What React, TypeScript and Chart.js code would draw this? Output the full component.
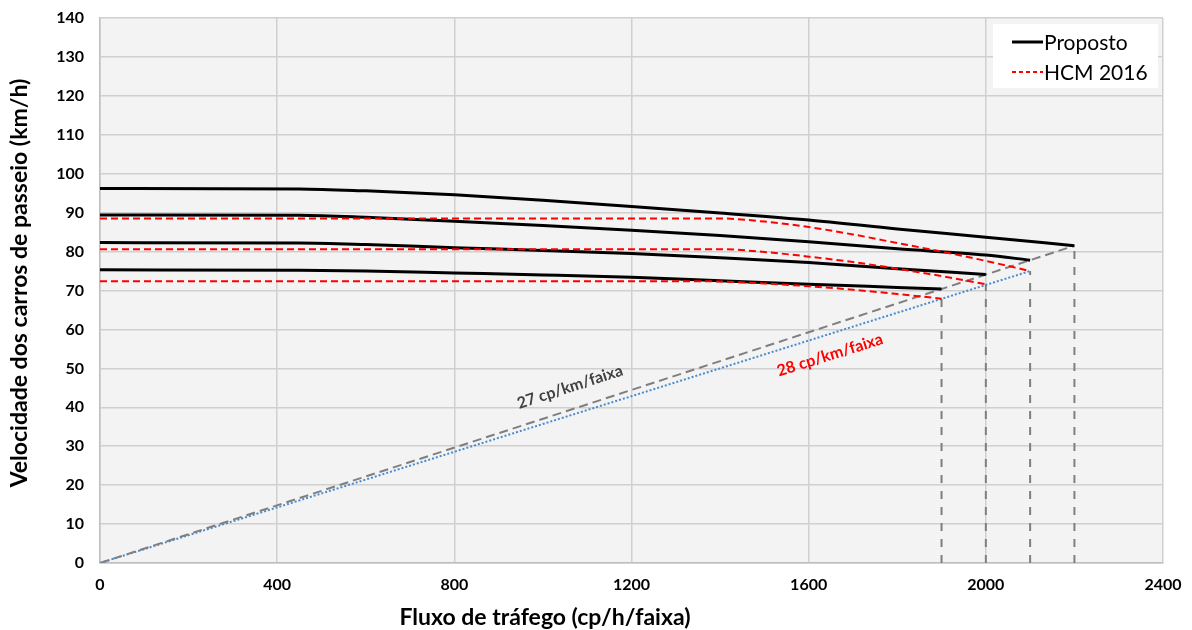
import React, { useEffect, useRef } from "react";
import { Chart, registerables } from "chart.js";

Chart.register(...registerables);

const FONT = "Lato, 'Open Sans', 'DejaVu Sans', sans-serif";

// Axis / ticks
const xMin = 0;
const xMax = 2400;
const xStep = 400;
const yMin = 0;
const yMax = 140;
const yStep = 10;
const xTitle = "Fluxo de tráfego (cp/h/faixa)";
const yTitle = "Velocidade dos carros de passeio (km/h)";

// Proposto (black solid) curves
const prop1Flow = [0, 450, 600, 800, 1000, 1200, 1400, 1600, 1800, 2000, 2200];
const prop1Speed = [96.2, 96.1, 95.6, 94.6, 93.2, 91.6, 89.9, 88.1, 85.8, 83.7, 81.5];
const prop2Flow = [0, 450, 600, 800, 1000, 1200, 1400, 1600, 1800, 2000, 2100];
const prop2Speed = [89.4, 89.3, 88.8, 87.8, 86.7, 85.5, 84.1, 82.5, 80.7, 79.1, 77.8];
const prop3Flow = [0, 450, 600, 800, 1000, 1200, 1400, 1600, 1800, 2000];
const prop3Speed = [82.3, 82.2, 81.8, 81.0, 80.3, 79.5, 78.4, 77.2, 75.6, 74.1];
const prop4Flow = [0, 450, 600, 800, 1000, 1200, 1400, 1600, 1800, 1900];
const prop4Speed = [75.3, 75.2, 75.0, 74.5, 74.0, 73.4, 72.5, 71.6, 70.8, 70.4];

// HCM 2016 (red dashed) curves
const hcm1Flow = [0, 1400, 1500, 1600, 1700, 1800, 1900, 2000, 2100];
const hcm1Speed = [88.5, 88.5, 87.7, 86.3, 84.4, 82.2, 80.0, 77.6, 75.0];
const hcm2Flow = [0, 1400, 1500, 1600, 1700, 1800, 1900, 2000];
const hcm2Speed = [80.6, 80.6, 79.9, 78.7, 77.3, 75.6, 73.7, 71.6];
const hcm3Flow = [0, 1350, 1500, 1600, 1700, 1800, 1900];
const hcm3Speed = [72.4, 72.4, 71.8, 71.1, 70.2, 69.1, 67.9];

// Density reference lines
const dens27Flow = [0, 2200];
const dens27Speed = [0, 81.5];
const dens28Flow = [0, 2100];
const dens28Speed = [0, 75.0];

// Capacity verticals
const capFlow = [1900, 2000, 2100, 2200];
const capSpeed = [67.9, 71.6, 75.0, 81.5];

// Text labels
const densLabels = ["27 cp/km/faixa", "28 cp/km/faixa"];
const densLabelFlow = [1061, 1648];
const densLabelSpeed = [45.2, 53.4];
const densLabelColor = ["#404040", "#ff0000"];

const legendLabels = ["Proposto", "HCM 2016"];

const pts = (xs: number[], ys: number[]) => xs.map((x, i) => ({ x, y: ys[i] }));

export default function App() {
  const ref = useRef<HTMLCanvasElement | null>(null);

  useEffect(() => {
    document.body.style.margin = "0";
    const canvas = ref.current;
    if (!canvas) return;

    const black = (xs: number[], ys: number[]) => ({
      label: "Proposto",
      data: pts(xs, ys),
      borderColor: "#000000",
      borderWidth: 3,
      pointRadius: 0,
      cubicInterpolationMode: "monotone" as const,
      order: 2,
    });
    const red = (xs: number[], ys: number[]) => ({
      label: "HCM 2016",
      data: pts(xs, ys),
      borderColor: "#ff0000",
      borderWidth: 2,
      borderDash: [7, 4],
      pointRadius: 0,
      cubicInterpolationMode: "monotone" as const,
      order: 1,
    });
    const verticals = capFlow.map((f, i) => ({
      label: "cap",
      data: [
        { x: f, y: 0 },
        { x: f, y: capSpeed[i] },
      ],
      borderColor: "#7f7f7f",
      borderWidth: 2,
      borderDash: [8, 8],
      pointRadius: 0,
      order: 3,
    }));

    const datasets: any[] = [
      red(hcm1Flow, hcm1Speed),
      red(hcm2Flow, hcm2Speed),
      red(hcm3Flow, hcm3Speed),
      black(prop1Flow, prop1Speed),
      black(prop2Flow, prop2Speed),
      black(prop3Flow, prop3Speed),
      black(prop4Flow, prop4Speed),
      {
        label: "27",
        data: pts(dens27Flow, dens27Speed),
        borderColor: "#7f7f7f",
        borderWidth: 2,
        borderDash: [9, 5],
        pointRadius: 0,
        order: 3,
      },
      {
        label: "28",
        data: pts(dens28Flow, dens28Speed),
        borderColor: "#4a8ad0",
        borderWidth: 2,
        borderDash: [2, 2],
        pointRadius: 0,
        order: 3,
      },
      ...verticals,
    ];

    const bgPlugin = {
      id: "bg",
      beforeDraw(chart: any) {
        const { ctx, chartArea: a } = chart;
        ctx.save();
        ctx.fillStyle = "#ffffff";
        ctx.fillRect(0, 0, chart.width, chart.height);
        ctx.fillStyle = "#f3f3f3";
        ctx.fillRect(a.left, a.top, a.right - a.left, a.bottom - a.top);
        ctx.restore();
      },
    };

    const annoPlugin = {
      id: "anno",
      afterDatasetsDraw(chart: any) {
        const { ctx } = chart;
        const xs = chart.scales.x;
        const ys = chart.scales.y;
        ctx.save();
        const slopes = [
          [dens27Flow, dens27Speed],
          [dens28Flow, dens28Speed],
        ];
        densLabels.forEach((t, i) => {
          const [fx, fy] = slopes[i];
          const dx = xs.getPixelForValue(fx[1]) - xs.getPixelForValue(fx[0]);
          const dy = ys.getPixelForValue(fy[1]) - ys.getPixelForValue(fy[0]);
          const ang = Math.atan2(dy, dx);
          const px = xs.getPixelForValue(densLabelFlow[i]);
          const py = ys.getPixelForValue(densLabelSpeed[i]);
          ctx.save();
          ctx.translate(px, py);
          ctx.rotate(ang);
          ctx.font = `bold 16px ${FONT}`;
          ctx.fillStyle = densLabelColor[i];
          ctx.textAlign = "center";
          ctx.textBaseline = "middle";
          ctx.fillText(t, 0, 0);
          ctx.restore();
        });
        ctx.restore();
      },
      afterDraw(chart: any) {
        const { ctx } = chart;
        ctx.save();
        ctx.fillStyle = "#000000";
        ctx.font = `bold 23px ${FONT}`;
        ctx.textAlign = "center";
        ctx.textBaseline = "middle";
        ctx.fillText(xTitle, 545, 618);
        ctx.save();
        ctx.translate(20, 283);
        ctx.rotate(-Math.PI / 2);
        ctx.fillText(yTitle, 0, 0);
        ctx.restore();

        // legend
        const bx = 993;
        const by = 24;
        ctx.fillStyle = "#ffffff";
        ctx.fillRect(bx, by, 165, 64);
        const rows = [42, 72];
        const colors = ["#000000", "#ff0000"];
        const widths = [3, 2];
        const dashes = [[], [4, 3]];
        legendLabels.forEach((t, i) => {
          ctx.beginPath();
          ctx.strokeStyle = colors[i];
          ctx.lineWidth = widths[i];
          ctx.setLineDash(dashes[i]);
          ctx.moveTo(bx + 19, rows[i]);
          ctx.lineTo(bx + 50, rows[i]);
          ctx.stroke();
          ctx.setLineDash([]);
          ctx.fillStyle = "#000000";
          ctx.font = `21px ${FONT}`;
          ctx.textAlign = "left";
          ctx.textBaseline = "middle";
          ctx.fillText(t, bx + 51, rows[i] + 1);
        });
        ctx.restore();
      },
    };

    const tickFont = { family: FONT, size: 16, weight: "bold" as const };
    const plain = (v: any) => String(v);

    const chart = new Chart(canvas, {
      type: "line",
      data: { datasets },
      options: {
        animation: false,
        responsive: false,
        maintainAspectRatio: false,
        layout: { padding: { top: 18, right: 29, left: 0, bottom: 0 } },
        plugins: {
          legend: { display: false },
          tooltip: { enabled: false },
          title: { display: false },
        },
        scales: {
          x: {
            type: "linear",
            min: xMin,
            max: xMax,
            ticks: { stepSize: xStep, color: "#000", font: tickFont, padding: 12, callback: plain },
            grid: { color: "#d0d0d0", lineWidth: 1.5, drawTicks: false },
            border: { color: "#bfbfbf", width: 1.5 },
            afterFit: (s: any) => {
              s.height = 67;
              s.paddingLeft = 0;
              s.paddingRight = 0;
            },
          },
          y: {
            type: "linear",
            min: yMin,
            max: yMax,
            ticks: { stepSize: yStep, color: "#000", font: tickFont, padding: 16, callback: plain },
            grid: { color: "#d0d0d0", lineWidth: 1.5, drawTicks: false },
            border: { color: "#bfbfbf", width: 1.5 },
            afterFit: (s: any) => {
              s.width = 100;
              s.paddingTop = 0;
              s.paddingBottom = 0;
            },
          },
        },
      } as any,
      plugins: [bgPlugin, annoPlugin],
    });

    return () => chart.destroy();
  }, []);

  return (
    <div style={{ width: 1192, height: 630 }}>
      <canvas ref={ref} width={1192} height={630} style={{ display: "block" }} />
    </div>
  );
}
